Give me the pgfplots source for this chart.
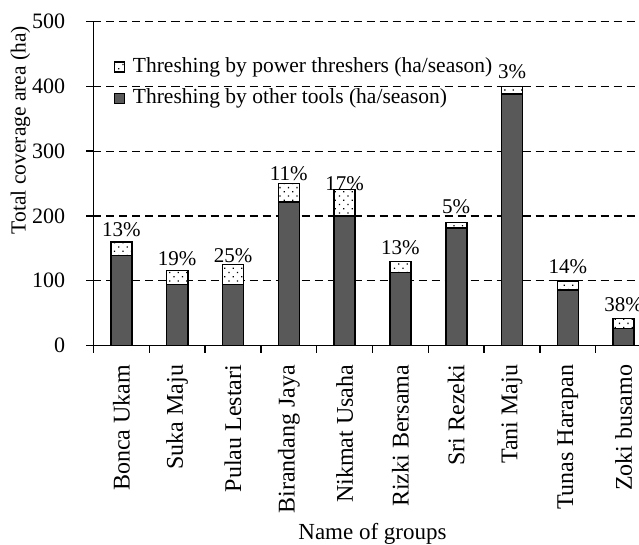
\documentclass[border=0pt]{standalone}
\usepackage{fontspec}
\setmainfont{Liberation Serif}
\usepackage{pgfplots}
\pgfplotsset{compat=1.18}
\usepackage{pgfplotstable}
\usetikzlibrary{patterns.meta}
\definecolor{bardark}{RGB}{89,89,89}
\pgfplotstableread{
x other power pct
0 139 21 13
1 94 22 19
2 94 31 25
3 222 28 11
4 200 41 17
5 113 17 13
6 181 9 5
7 388 12 3
8 86 14 14
9 26 16 38
}\datatable
\begin{document}
\fontsize{21.5}{25}\selectfont
\begin{tikzpicture}
\begin{axis}[
  at={(0,0)}, anchor=south west,
  scale only axis, width=558pt, height=323.8pt,
  ybar stacked, bar width=21pt,
  xmin=-0.5, xmax=9.5, ymin=0, ymax=500,
  ytick={0,100,...,500},
  /pgf/number format/assume math mode=true,
  ymajorgrids,
  grid style={black, line width=1.3pt, dash pattern=on 8pt off 5pt},
  axis x line*=bottom, axis y line*=left,
  axis line style={-, line width=1.8pt, black},
  tick align=outside, major tick length=7pt, minor tick length=7pt,
  tick style={black, line width=1.5pt},
  xtick={0,...,9},
  xticklabels={Bonca Ukam, Suka Maju, Pulau Lestari, Birandang Jaya, Nikmat Usaha, Rizki Bersama, Sri Rezeki, Tani Maju, Tunas Harapan, Zoki busamo},
  minor xtick={-0.5,0.5,...,9.5},
  major x tick style={draw=none},
  minor x tick style={draw=black, line width=1.5pt},
  xticklabel style={yshift=-5pt, rotate=90, anchor=east, font=\fontsize{24}{28}\selectfont},
  yticklabel style={xshift=-14pt, font=\fontsize{22}{26}\selectfont},
  ylabel={Total coverage area (ha)},
  ylabel style={at={(axis description cs:-0.131,0.6655)}, anchor=center},
  xlabel={Name of groups},
  xlabel style={at={(axis description cs:0.5,-0.5985)}, anchor=base, font=\fontsize{23}{27}\selectfont},
  legend style={at={(axis description cs:0.0355,0.895)}, anchor=north west, draw=none, fill=none, inner sep=0pt, row sep=9pt},
  legend cell align=left,
  reverse legend,
  legend image code/.code={\draw[#1, line width=1.2pt] (0pt,-5pt) rectangle (10pt,5pt); \path (16pt,0pt);},
]
\addplot[fill=bardark, draw=black, line width=1.6pt] table[x=x, y=other] {\datatable};
\addlegendentry{Threshing by other tools (ha/season)}
\addplot[fill=white, postaction={pattern={Dots[distance=6pt, angle=45, radius=0.9pt]}}, draw=black, line width=1.6pt,
  point meta=explicit symbolic,
  nodes near coords={\pgfplotspointmeta\%},
  every node near coord/.append style={anchor=south, yshift=4pt, black, font=\fontsize{21}{25}\selectfont}] table[x=x, y=power, meta=pct] {\datatable};
\addlegendentry{Threshing by power threshers (ha/season)}
\end{axis}
\pgfresetboundingbox
\path[use as bounding box] (-93.5pt,-198.5pt) rectangle (545.5pt,345.5pt);
\end{tikzpicture}
\end{document}
